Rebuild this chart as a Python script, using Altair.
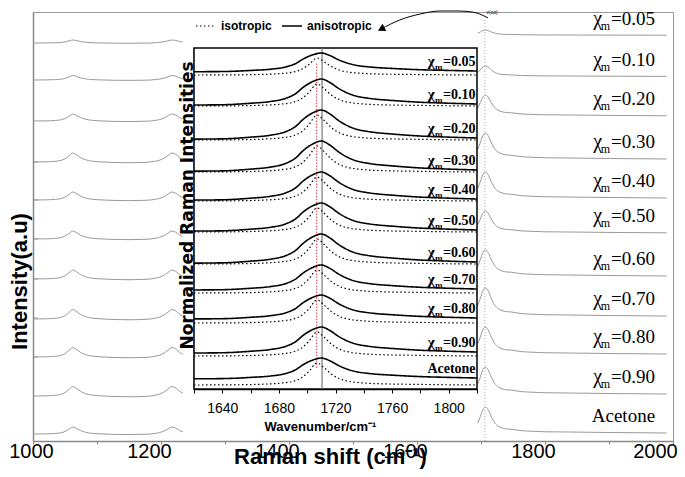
import altair as alt
import pandas as pd

# ---------------- series names (top to bottom) ----------------
series = ["=0.05", "=0.10", "=0.20", "=0.30", "=0.40", "=0.50",
          "=0.60", "=0.70", "=0.80", "=0.90", "Acetone"]

# ---------------- outer (gray) spectra ----------------
main_left_wn = [1000, 1020, 1035, 1045, 1052, 1058, 1062, 1067, 1074, 1082, 1092,
                1105, 1125, 1150, 1175, 1192, 1203, 1211, 1217, 1223, 1229, 1234]
main_left_shape = [0.0, 0.02, 0.08, 0.2, 0.45, 0.8, 1.0, 0.85, 0.5, 0.25, 0.1,
                   0.02, -0.05, -0.08, -0.04, 0.1, 0.35, 0.72, 1.0, 0.85, 0.5, 0.3]
main_right_wn = [1695, 1699, 1703, 1707, 1711, 1715, 1720, 1726, 1733, 1741, 1748,
                 1755, 1765, 1780, 1800, 1840, 1900, 1950, 1990]
main_right_shape = [0.35, 0.62, 0.9, 1.0, 0.9, 0.68, 0.42, 0.25, 0.16, 0.12, 0.11,
                    0.08, 0.05, 0.03, 0.01, 0.0, -0.02, -0.03, -0.04]
left_base = [398, 361, 320, 279, 241, 202, 162, 122, 84, 45, 7]
left_amp = [3, 4.5, 7, 9, 8, 8, 9, 9.5, 9.5, 9.5, 7]
right_base = [406, 365, 326, 283, 244, 209, 166, 126, 88, 48, 9]
right_amp = [5, 10, 20, 25, 25, 21, 25, 27, 26, 26, 25]
y_tick_values = [84, 123, 162, 202, 241, 279]
main_marker_wn = [1706]

# curved arrow (main axes units)
arrow_wn = [1544, 1573, 1605, 1636, 1664, 1686, 1698, 1711]
arrow_val = [412, 421, 427, 430, 430, 429, 427, 423]

# ---------------- inset spectra ----------------
inset_solid_wn = [1620, 1640, 1660, 1674, 1685, 1692, 1697, 1704, 1710, 1716, 1722,
                  1728, 1735, 1742, 1749, 1758, 1768, 1780, 1795, 1820]
inset_solid_shape = [-0.04, -0.03, 0.03, 0.1, 0.23, 0.42, 0.66, 0.9, 1.0, 0.86, 0.63,
                     0.45, 0.31, 0.24, 0.19, 0.15, 0.11, 0.07, 0.04, 0.0]
inset_dot_wn = [1620, 1650, 1670, 1682, 1690, 1696, 1701, 1707, 1712, 1717, 1723,
                1730, 1740, 1755, 1775, 1800, 1820]
inset_dot_shape = [0.0, 0.01, 0.04, 0.09, 0.17, 0.33, 0.6, 1.0, 0.78, 0.5, 0.28,
                   0.16, 0.09, 0.05, 0.03, 0.01, 0.0]
inset_solid_base = [318, 285, 251, 219, 190, 159, 127, 100, 71, 37, 11]
inset_solid_amp = [18, 25, 28, 29, 27, 27, 28, 24, 23, 25, 20]
inset_dot_base = [314, 283, 249, 217, 188, 157, 125, 96, 66, 33, 4]
inset_dot_amp = [17, 22, 25, 26, 24, 24, 25, 23, 23, 24, 22]
inset_gray_line = [1710.5, 0, 341]
inset_red_line = [1706.7, 21, 326]

MAIN_LABEL_X = 1972
INSET_LABEL_X = 1819
SANS = "Liberation Sans"

# ---------------- tables ----------------
rows = []
for i in range(len(series)):
    for w, s in zip(main_left_wn, main_left_shape):
        rows.append(dict(trace=i, seg="L", wn=w, val=left_base[i] + left_amp[i] * s))
    for w, s in zip(main_right_wn, main_right_shape):
        rows.append(dict(trace=i, seg="R", wn=w, val=right_base[i] + right_amp[i] * s))
main_df = pd.DataFrame(rows)

lab_rows = []
for i, name in enumerate(series):
    chi = "" if name == "Acetone" else "\u03c7"
    sub = "" if name == "Acetone" else "m"
    lab_rows.append(dict(txt=name, chi=chi, sub=sub, val=right_base[i],
                         ival=inset_solid_base[i]))
lab_df = pd.DataFrame(lab_rows)

irows = []
for i in range(len(series)):
    for w, s in zip(inset_dot_wn, inset_dot_shape):
        irows.append(dict(trace=i, kind="isotropic", wn=w,
                          val=inset_dot_base[i] + inset_dot_amp[i] * s))
    for w, s in zip(inset_solid_wn, inset_solid_shape):
        irows.append(dict(trace=i, kind="anisotropic", wn=w,
                          val=inset_solid_base[i] + inset_solid_amp[i] * s))
inset_df = pd.DataFrame(irows)

tick_df = pd.DataFrame(dict(val=y_tick_values))
arrow_df = pd.DataFrame(dict(wn=arrow_wn, val=arrow_val))
vline_df = pd.DataFrame(dict(wn=main_marker_wn, y1=[0], y2=[421]))
gray_df = pd.DataFrame(dict(wn=[inset_gray_line[0]], y1=[inset_gray_line[1]], y2=[inset_gray_line[2]]))
red_df = pd.DataFrame(dict(wn=[inset_red_line[0]], y1=[inset_red_line[1]], y2=[inset_red_line[2]]))

# ---------------- main scales / axes ----------------
mx_scale = alt.Scale(domain=[1000, 2000], nice=False, zero=False)
my_scale = alt.Scale(domain=[0, 429], nice=False, zero=False)

main_x = alt.X("wn:Q", scale=mx_scale, axis=alt.Axis(
    orient="bottom", values=list(range(1000, 2001, 100)), format="d",
    labelExpr="datum.value % 200 == 0 ? datum.label : ''",
    labelFont=SANS, labelFontSize=20, labelColor="black",
    labelOffset={"condition": [{"test": "datum.value == 1000", "value": -2},
                               {"test": "datum.value == 2000", "value": -18}],
                 "value": -12},
    labelPadding=-3, labelFlush=False, labelOverlap=False,
    labelBound=False, tickSize=3, tickColor="#888", domainColor="#888",
    domainWidth=1.5, grid=False,
    title="Raman shift (cm\u207b\u00b9)", titleFont=SANS,
    titleFontSize=22, titleFontWeight="bold", titleColor="black",
    titleX=297, titleY=22, titleBaseline="alphabetic", titleAlign="center"))
main_y = alt.Y("val:Q", scale=my_scale, axis=alt.Axis(
    orient="left", ticks=False, labels=False, domainColor="#888",
    domainWidth=1.5, grid=False, title="Intensity(a.u)",
    titleFont=SANS, titleFontSize=22, titleFontWeight="bold",
    titleColor="black", titleX=-7, titleY=269, titleAngle=270,
    titleAlign="center", titleBaseline="alphabetic"))

main_lines = alt.Chart(main_df).mark_line(
    color="#9a9a9a", strokeWidth=1, interpolate="monotone").encode(
    x=main_x, y=main_y, detail=["trace:N", "seg:N"])

main_ticks = alt.Chart(tick_df).mark_tick(
    orient="horizontal", size=5, thickness=1, color="#888", xOffset=2.5).encode(
    x=alt.datum(1000), y=alt.Y("val:Q"))

main_vline = alt.Chart(vline_df).mark_rule(
    color="#aaaaaa", strokeWidth=1, strokeDash=[1, 2]).encode(
    x="wn:Q", y="y1:Q", y2="y2:Q")

lab_val = alt.Chart(lab_df).mark_text(
    align="right", baseline="alphabetic", font="Liberation Serif",
    fontSize=19, color="black", dy=-10).encode(
    x=alt.datum(MAIN_LABEL_X), y="val:Q", text="txt:N")
lab_sub = alt.Chart(lab_df).mark_text(
    align="right", baseline="alphabetic", font="Liberation Serif",
    fontSize=12, color="black", dx=-45, dy=-5).encode(
    x=alt.datum(MAIN_LABEL_X), y="val:Q", text="sub:N")
lab_chi = alt.Chart(lab_df).mark_text(
    align="right", baseline="alphabetic", font="Liberation Serif",
    fontSize=20, color="black", dx=-53, dy=-10).encode(
    x=alt.datum(MAIN_LABEL_X), y="val:Q", text="chi:N")

arrow_line = alt.Chart(arrow_df).mark_line(
    color="black", strokeWidth=1, interpolate="monotone").encode(
    x="wn:Q", y="val:Q")
arrow_head = alt.Chart(arrow_df.head(1)).mark_point(
    shape="triangle-left", filled=True, size=70, angle=333, color="black",
    opacity=1).encode(x="wn:Q", y="val:Q")
nu_label = alt.Chart(arrow_df.tail(1)).mark_text(
    text="\u03bd(co)", fontSize=5, color="black", dx=4, dy=-6).encode(
    x="wn:Q", y="val:Q")

main_layer = alt.layer(main_lines, main_ticks, main_vline, lab_val, lab_sub,
                       lab_chi, arrow_line, arrow_head, nu_label)

# ---------------- inset scales / axes ----------------
ix_scale = alt.Scale(domain=[1620, 1820], range=[161, 444], nice=False, zero=False)
iy_scale = alt.Scale(domain=[0, 341], range=[377, 36], nice=False, zero=False)

inset_x = alt.X("wn:Q", scale=ix_scale, axis=alt.Axis(
    orient="bottom", offset=-52, values=list(range(1620, 1821, 20)), format="d",
    labelExpr="datum.value % 40 == 0 ? datum.label : ''",
    labelFont=SANS, labelFontSize=14, labelColor="black", labelPadding=8,
    labelFlush=False, labelOverlap=False, labelBound=False, tickSize=4,
    tickColor="black", domainColor="black", domainWidth=1.5, grid=False,
    title="Wavenumber/cm\u207b\u00b9", titleFont=SANS, titleFontSize=13,
    titleFontWeight="bold", titleColor="black", titleX=287, titleY=41,
    titleBaseline="alphabetic", titleAlign="center"))
inset_y = alt.Y("val:Q", scale=iy_scale, axis=alt.Axis(
    orient="left", offset=-161, ticks=False, labels=False, domainColor="black",
    domainWidth=1.5, grid=False, title="Normalized Raman Intensities",
    titleFont="DejaVu Sans", titleFontSize=17, titleFontWeight="bold",
    titleColor="black", titleX=-2, titleY=193, titleAngle=270,
    titleAlign="center", titleBaseline="alphabetic"))

inset_frame = alt.Chart(pd.DataFrame(dict(a=[0]))).mark_rect(
    fill="white", stroke="black", strokeWidth=1.5).encode(
    x=alt.datum(1620), x2=alt.datum(1820), y=alt.datum(0), y2=alt.datum(341))

inset_gray = alt.Chart(gray_df).mark_rule(color="#777777", strokeWidth=1.2).encode(
    x="wn:Q", y="y1:Q", y2="y2:Q")
inset_red = alt.Chart(red_df).mark_rule(color="#e04040", strokeWidth=1,
                                        strokeDash=[1.5, 1.5]).encode(
    x="wn:Q", y="y1:Q", y2="y2:Q")

inset_lines = alt.Chart(inset_df).mark_line(
    color="black", interpolate="monotone").encode(
    x=inset_x, y=inset_y, detail="trace:N",
    strokeDash=alt.StrokeDash("kind:N", scale=alt.Scale(
        domain=["isotropic", "anisotropic"], range=[[1.5, 2.5], [1, 0]]),
        legend=alt.Legend(orient="none", legendX=162, legendY=3,
                          direction="horizontal", title=None,
                          symbolType="stroke", symbolSize=400,
                          symbolStrokeWidth=1.3, symbolStrokeColor="black",
                          labelFont=SANS, labelFontSize=12,
                          labelFontWeight="bold", labelColor="black",
                          columnPadding=6, labelOffset=4, padding=0)),
    strokeWidth=alt.StrokeWidth("kind:N", scale=alt.Scale(
        domain=["isotropic", "anisotropic"], range=[1.2, 1.6]), legend=None))

ilab_val = alt.Chart(lab_df).mark_text(
    align="right", baseline="alphabetic", font="Liberation Serif",
    fontWeight="bold", fontSize=14, color="black", dy=-5).encode(
    x=alt.datum(INSET_LABEL_X), y="ival:Q", text="txt:N")
ilab_sub = alt.Chart(lab_df).mark_text(
    align="right", baseline="alphabetic", font="Liberation Serif",
    fontWeight="bold", fontSize=9, color="black", dx=-33, dy=-1).encode(
    x=alt.datum(INSET_LABEL_X), y="ival:Q", text="sub:N")
ilab_chi = alt.Chart(lab_df).mark_text(
    align="right", baseline="alphabetic", font="Liberation Serif",
    fontWeight="bold", fontSize=15, color="black", dx=-41, dy=-5).encode(
    x=alt.datum(INSET_LABEL_X), y="ival:Q", text="chi:N")

inset_layer = alt.layer(inset_frame, inset_gray, inset_red, inset_lines,
                        ilab_val, ilab_sub, ilab_chi)

chart = alt.layer(main_layer, inset_layer).resolve_scale(
    x="independent", y="independent").properties(
    width=640, height=429,
    autosize=alt.AutoSizeParams(type="none"),
    padding={"left": 25, "top": 4, "right": 4, "bottom": 28},
    background="white").configure_view(stroke="#999999", strokeWidth=1)

chart.save("out.html", embed_options={"renderer": "svg", "actions": False})
